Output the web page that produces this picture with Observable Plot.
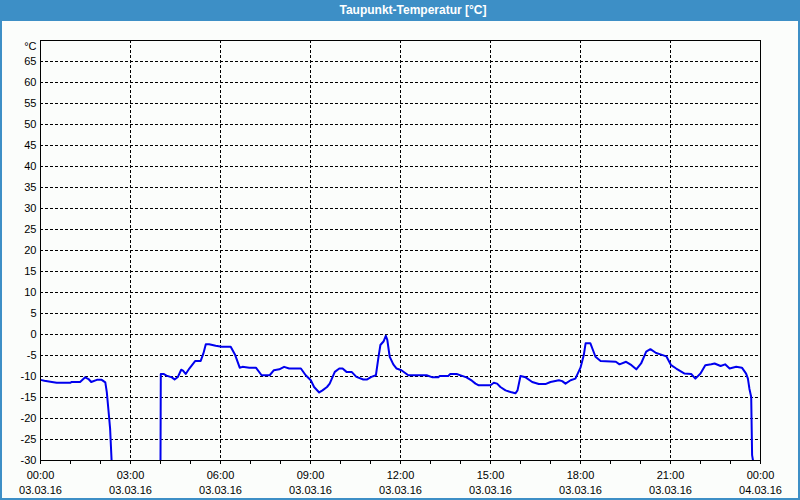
<!DOCTYPE html>
<html>
<head>
<meta charset="utf-8">
<script src="https://cdn.jsdelivr.net/npm/d3@7"></script>
<script src="https://cdn.jsdelivr.net/npm/@observablehq/plot@0.6"></script>
<style>
  body { margin: 0; background: #ffffff; }
  #win { position: relative; width: 800px; height: 500px; background: #fbfdfb; overflow: hidden;
         font-family: "Liberation Sans", Arial, sans-serif; }
  #title { position: absolute; left: 0; top: 0; width: 800px; height: 21px; background: #3d8fc6;
           color: #ffffff; font-weight: bold; font-size: 12px; line-height: 21px; text-align: center;
           box-sizing: border-box; padding-left: 26px; }
  #chart { position: absolute; left: 0; top: 20px; }
  #border { position: absolute; left: 0; top: 0; width: 800px; height: 500px; box-sizing: border-box;
            border: 2px solid #3d8fc6; border-top: none; pointer-events: none; }
</style>
</head>
<body>
<div id="win">
  <div id="chart"></div>
  <div id="title">Taupunkt-Temperatur [°C]</div>
  <div id="border"></div>
</div>
<script>
// Time in hours since 03.03.16 00:00
const hours = [
  0, 0.13, 0.38, 0.54, 0.99, 1.04, 1.32, 1.49, 1.6, 1.69, 1.88, 2.04, 2.16, 2.21, 2.27, 2.32, 2.37,
  2.38,
  4.0, 4.01, 4.1, 4.2, 4.38, 4.47, 4.58, 4.69, 4.75, 4.84, 4.96, 5.16, 5.34, 5.43, 5.51, 5.62, 5.84,
  6.04, 6.34, 6.49, 6.64, 6.73, 6.96, 7.18, 7.37, 7.64, 7.78, 7.96, 8.12, 8.29, 8.68, 8.84, 9.01,
  9.12, 9.29, 9.4, 9.55, 9.64, 9.81, 9.96, 10.07, 10.2, 10.37, 10.53, 10.76, 10.89, 11.03, 11.18,
  11.26, 11.33, 11.44, 11.51, 11.56, 11.64, 11.76, 11.87, 12.03, 12.26, 12.87, 13.07, 13.26, 13.3,
  13.59, 13.66, 13.87, 14.03, 14.2, 14.38, 14.5, 14.61, 15.0, 15.11, 15.22, 15.33, 15.5, 15.67,
  15.83, 15.9, 16.0, 16.17, 16.39, 16.61, 16.83, 17.0, 17.28, 17.39, 17.5, 17.67, 17.83, 18.0,
  18.11, 18.17, 18.33, 18.5, 18.67, 19.18, 19.3, 19.52, 19.7, 19.86, 20.02, 20.19, 20.33, 20.52,
  20.69, 20.86, 21.02, 21.19, 21.47, 21.69, 21.83, 22.0, 22.16, 22.36, 22.47, 22.67, 22.82, 22.97,
  23.19, 23.38, 23.52, 23.58, 23.63, 23.69, 23.72, 23.75
];
const dewpoint = [
  -10.8, -11.0, -11.3, -11.5, -11.5, -11.3, -11.3, -10.2, -10.6, -11.3, -10.8, -10.8, -11.4, -13.7, -18.4, -22.4, -30,
  null,
  -30, -9.4, -9.4, -9.8, -10.2, -10.7, -10.1, -8.4, -8.6, -9.4, -8.1, -6.3, -6.3, -4.5, -2.3, -2.3, -2.7,
  -2.9, -2.9, -4.9, -7.9, -7.7, -7.9, -7.9, -9.7, -9.7, -8.5, -8.3, -7.7, -8.1, -8.1, -9.7, -10.9,
  -12.5, -13.8, -13.3, -12.5, -11.7, -8.9, -8.1, -8.1, -8.9, -8.9, -10.1, -10.7, -10.7, -10.1, -9.7,
  -5.7, -2.5, -1.6, -0.3, -1.3, -5.3, -7.1, -8.1, -8.5, -9.7, -9.7, -10.2, -10.2, -9.9,
  -9.9, -9.4, -9.4, -9.8, -10.2, -11.0, -11.7, -12.1, -12.1, -11.5, -11.7, -12.5, -13.3, -13.7,
  -14.0, -13.3, -9.9, -10.2, -11.3, -11.8, -11.8, -11.3, -10.9, -11.1, -11.7, -10.9, -10.5, -7.9,
  -4.9, -2.1, -2.1, -5.3, -6.3, -6.5, -7.1, -6.5, -7.3, -8.3, -6.9, -4.1, -3.5, -4.4,
  -4.8, -5.2, -7.3, -8.1, -9.3, -9.4, -10.5, -9.3, -7.3, -7.1, -6.9, -7.5, -7.1, -8.1,
  -7.7, -7.9, -9.3, -10.5, -12.9, -14.9, -28.7, -30
];
const yTicks = [-30, -25, -20, -15, -10, -5, 0, 5, 10, 15, 20, 25, 30, 35, 40, 45, 50, 55, 60, 65];
const yGrid = [-25, -20, -15, -10, -5, 0, 5, 10, 15, 20, 25, 30, 35, 40, 45, 50, 55, 60, 65];
const yUnit = "°C";
const xTickHours = [0, 3, 6, 9, 12, 15, 18, 21, 24];
const xTimeLabels = ["00:00", "03:00", "06:00", "09:00", "12:00", "15:00", "18:00", "21:00", "00:00"];
const xDateLabels = ["03.03.16", "03.03.16", "03.03.16", "03.03.16", "03.03.16", "03.03.16", "03.03.16", "03.03.16", "04.03.16"];
const xGrid = [3, 6, 9, 12, 15, 18, 21];
const minorTicks = d3.range(0, 25);

const data = hours.map((h, i) => ({h, v: dewpoint[i]}));
const FONT = "Liberation Sans, Arial, sans-serif";

const chart = Plot.plot({
  width: 800,
  height: 480,
  marginLeft: 40,
  marginRight: 40,
  marginTop: 20,
  marginBottom: 40,
  style: {background: "transparent", fontFamily: FONT, fontSize: "11px", color: "#000"},
  x: {domain: [0, 24], axis: null},
  y: {domain: [-30, 70], axis: null},
  marks: [
    Plot.ruleY(yGrid, {stroke: "#000", strokeDasharray: "3,2", strokeWidth: 1, shapeRendering: "crispEdges"}),
    Plot.ruleX(xGrid, {stroke: "#000", strokeDasharray: "3,2", strokeWidth: 1, shapeRendering: "crispEdges"}),
    Plot.vector(minorTicks, {x: d => d, y: -30, length: 3, rotate: 180, anchor: "start", stroke: "#000", strokeWidth: 1, shapeRendering: "crispEdges"}),
    Plot.line(data, {x: "h", y: "v", stroke: "#0000ee", strokeWidth: 2, clip: true, curve: "linear"}),
    Plot.frame({stroke: "#000", strokeWidth: 1, shapeRendering: "crispEdges"}),
    Plot.text(yTicks, {x: 0, y: d => d, text: d => String(d), textAnchor: "end", dx: -4, fontSize: 11, fill: "#000"}),
    Plot.text([yUnit], {x: 0, y: 70, text: d => d, textAnchor: "end", dx: -4, dy: 6, fontSize: 11, fill: "#000"}),
    Plot.text(xTickHours, {x: d => d, y: -30, text: (d, i) => xTimeLabels[i], dy: 15, fontSize: 11, fill: "#000"}),
    Plot.text(xTickHours, {x: d => d, y: -30, text: (d, i) => xDateLabels[i], dy: 30, fontSize: 11, fill: "#000"})
  ]
});
document.getElementById("chart").appendChild(chart);
</script>
</body>
</html>
